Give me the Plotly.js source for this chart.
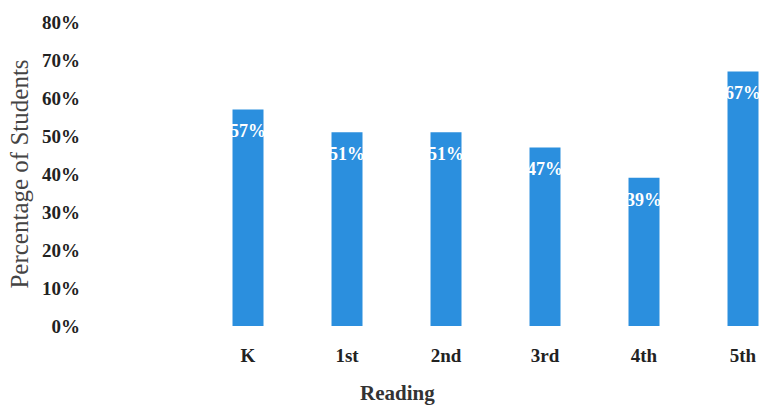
<!DOCTYPE html>
<html>
<head>
<meta charset="utf-8">
<script src="https://cdn.plot.ly/plotly-3.0.1.min.js"></script>
<style>html,body{margin:0;padding:0;background:#fff;}#chart{width:763px;height:409px;}</style>
</head>
<body>
<div id="chart"></div>
<script>
const grades = ["K", "1st", "2nd", "3rd", "4th", "5th"];
const percentages = [57, 51, 51, 47, 39, 67];
const yTickValues = [0, 10, 20, 30, 40, 50, 60, 70, 80];
const yTickLabels = ["0%", "10%", "20%", "30%", "40%", "50%", "60%", "70%", "80%"];
const xTitle = "Reading";
const yTitle = "Percentage of Students";

const serif = "Liberation Serif, Times New Roman, serif";

const trace = {
  type: "bar",
  x: grades,
  y: percentages,
  marker: {color: "#2b8fde"},
  hoverinfo: "none"
};

const labelAnnotations = grades.map((g, i) => ({
  x: g, y: percentages[i], xref: "x", yref: "y",
  text: "<b>" + percentages[i] + "%</b>",
  showarrow: false, yanchor: "top", yshift: -10,
  font: {family: serif, size: 18, color: "#ffffff"}
}));

const layout = {
  width: 763, height: 409,
  margin: {l: 90, r: 0, t: 22, b: 83, pad: 0},
  paper_bgcolor: "#ffffff", plot_bgcolor: "#ffffff",
  showlegend: false,
  bargap: 0.687,
  xaxis: {
    type: "category",
    range: [-1.596, 5.202],
    showgrid: false, zeroline: false, showline: false, ticks: "",
    ticklabelstandoff: 16,
    tickfont: {family: serif, size: 19, color: "#222", weight: "bold"},
    automargin: false
  },
  yaxis: {
    range: [0, 80],
    tickvals: yTickValues, ticktext: yTickLabels,
    showgrid: false, zeroline: false, showline: false, ticks: "",
    ticklabelstandoff: 9,
    tickfont: {family: serif, size: 19, color: "#222", weight: "bold"},
    title: {text: yTitle, font: {family: serif, size: 25, color: "#444"}, standoff: 6},
    automargin: false
  },
  annotations: labelAnnotations.concat([{
    xref: "paper", yref: "paper", x: (397 - 90) / 673, y: -67 / 304,
    text: "<b>" + xTitle + "</b>", showarrow: false,
    xanchor: "center", yanchor: "middle",
    font: {family: serif, size: 21, color: "#333"}
  }])
};

Plotly.newPlot("chart", [trace], layout, {staticPlot: true, displayModeBar: false});
</script>
</body>
</html>
